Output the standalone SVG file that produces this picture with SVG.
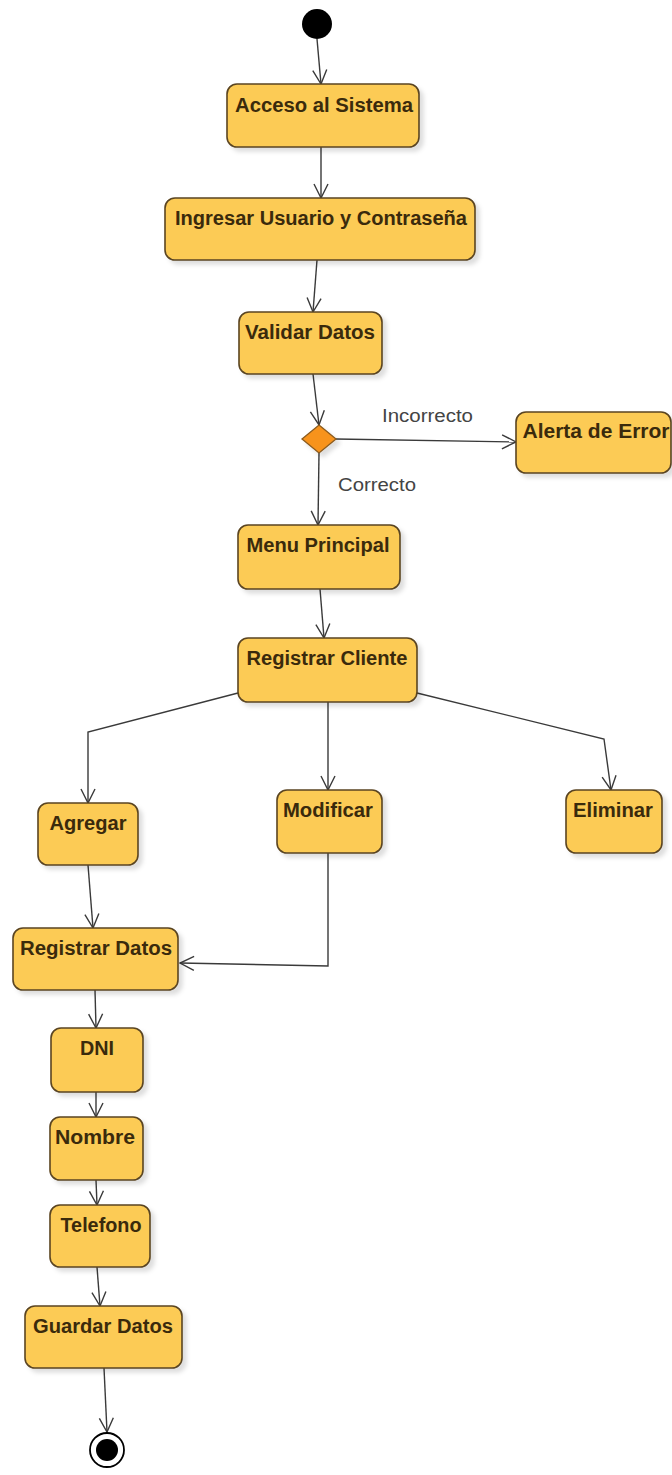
<svg xmlns="http://www.w3.org/2000/svg" width="672" height="1475" viewBox="0 0 672 1475">
  <style>
    .act { fill: #FCCB55; stroke: #5a4420; stroke-width: 1.6; filter: url(#shadow); }
    .lbl { font-family: "Liberation Sans", Arial, sans-serif; font-weight: bold; font-size: 20px; fill: #3a2a0c; text-anchor: middle; }
    .guard { font-family: "Liberation Sans", Arial, sans-serif; font-size: 18px; fill: #444; }
    .flow { fill: none; stroke: #3a3a3a; stroke-width: 1.4; marker-end: url(#arrow); }
  </style>
  <defs>
    <filter id="shadow" x="-10%" y="-10%" width="130%" height="140%">
      <feDropShadow dx="4" dy="4" stdDeviation="2" flood-color="#000" flood-opacity="0.13"/>
    </filter>
    <marker id="arrow" viewBox="0 0 16 16" refX="15" refY="8" markerWidth="16" markerHeight="16" orient="auto" markerUnits="userSpaceOnUse">
      <path d="M1,1 L15,8 L1,15" fill="none" stroke="#3a3a3a" stroke-width="1.4"/>
    </marker>
  </defs>
  <rect width="672" height="1475" fill="#ffffff"/>

  <!-- control flow -->
  <g id="connectors">
    <path class="flow" d="M317,39 L321,84"/>
    <path class="flow" d="M321,147 L321,198"/>
    <path class="flow" d="M317,260 L313,312"/>
    <path class="flow" d="M313,374 L319,425"/>
    <path class="flow" d="M336,439 L516,442"/>
    <path class="flow" d="M319,453 L318,525"/>
    <path class="flow" d="M320,589 L324,638"/>
    <path class="flow" d="M238,693 L88,732 L88,803"/>
    <path class="flow" d="M328,702 L328,790"/>
    <path class="flow" d="M417,693 L604,739 L611,790"/>
    <path class="flow" d="M88,865 L93,928"/>
    <path class="flow" d="M328,853 L328,966 L180,963"/>
    <path class="flow" d="M95,990 L96,1028"/>
    <path class="flow" d="M96,1092 L96,1117"/>
    <path class="flow" d="M96,1180 L97,1205"/>
    <path class="flow" d="M97,1267 L100,1306"/>
    <path class="flow" d="M104,1368 L107,1432"/>
    <text class="guard" x="382" y="422" textLength="91" lengthAdjust="spacingAndGlyphs">Incorrecto</text>
    <text class="guard" x="338" y="491" textLength="78" lengthAdjust="spacingAndGlyphs">Correcto</text>
  </g>

  <g id="start">
    <circle cx="317" cy="24" r="15" fill="#000"/>
  </g>

  <g id="acceso">
    <rect class="act" x="227" y="84" width="192" height="63" rx="10"/>
    <text class="lbl" x="324" y="112" textLength="178" lengthAdjust="spacingAndGlyphs">Acceso al Sistema</text>
  </g>

  <g id="ingresar">
    <rect class="act" x="165" y="198" width="310" height="62" rx="10"/>
    <text class="lbl" x="321" y="225" textLength="292" lengthAdjust="spacingAndGlyphs">Ingresar Usuario y Contraseña</text>
  </g>

  <g id="validar">
    <rect class="act" x="239" y="312" width="143" height="62" rx="10"/>
    <text class="lbl" x="310" y="339" textLength="130" lengthAdjust="spacingAndGlyphs">Validar Datos</text>
  </g>

  <g id="decision">
    <polygon points="319,425 336,439 319,453 302,439" fill="#F7931E" stroke="#8a5a1c" stroke-width="1.3" filter="url(#shadow)"/>
  </g>

  <g id="alerta">
    <rect class="act" x="516" y="412" width="155" height="61" rx="10"/>
    <text class="lbl" x="596" y="438" textLength="147" lengthAdjust="spacingAndGlyphs">Alerta de Error</text>
  </g>

  <g id="menu">
    <rect class="act" x="238" y="525" width="162" height="64" rx="10"/>
    <text class="lbl" x="318" y="552" textLength="143" lengthAdjust="spacingAndGlyphs">Menu Principal</text>
  </g>

  <g id="registrar-cliente">
    <rect class="act" x="238" y="638" width="179" height="64" rx="10"/>
    <text class="lbl" x="327" y="665" textLength="161" lengthAdjust="spacingAndGlyphs">Registrar Cliente</text>
  </g>

  <g id="agregar">
    <rect class="act" x="38" y="803" width="100" height="62" rx="10"/>
    <text class="lbl" x="88" y="830" textLength="77" lengthAdjust="spacingAndGlyphs">Agregar</text>
  </g>

  <g id="modificar">
    <rect class="act" x="277" y="790" width="105" height="63" rx="10"/>
    <text class="lbl" x="328" y="817" textLength="90" lengthAdjust="spacingAndGlyphs">Modificar</text>
  </g>

  <g id="eliminar">
    <rect class="act" x="566" y="790" width="96" height="63" rx="10"/>
    <text class="lbl" x="613" y="817" textLength="80" lengthAdjust="spacingAndGlyphs">Eliminar</text>
  </g>

  <g id="registrar-datos">
    <rect class="act" x="13" y="928" width="165" height="62" rx="10"/>
    <text class="lbl" x="96" y="955" textLength="152" lengthAdjust="spacingAndGlyphs">Registrar Datos</text>
  </g>

  <g id="dni">
    <rect class="act" x="51" y="1028" width="92" height="64" rx="10"/>
    <text class="lbl" x="97" y="1055" textLength="34" lengthAdjust="spacingAndGlyphs">DNI</text>
  </g>

  <g id="nombre">
    <rect class="act" x="50" y="1117" width="93" height="63" rx="10"/>
    <text class="lbl" x="95" y="1144" textLength="80" lengthAdjust="spacingAndGlyphs">Nombre</text>
  </g>

  <g id="telefono">
    <rect class="act" x="50" y="1205" width="100" height="62" rx="10"/>
    <text class="lbl" x="101" y="1232" textLength="81" lengthAdjust="spacingAndGlyphs">Telefono</text>
  </g>

  <g id="guardar">
    <rect class="act" x="25" y="1306" width="157" height="62" rx="10"/>
    <text class="lbl" x="103" y="1333" textLength="140" lengthAdjust="spacingAndGlyphs">Guardar Datos</text>
  </g>

  <g id="end">
    <circle cx="107" cy="1450" r="17" fill="#fff" stroke="#000" stroke-width="1.8"/>
    <circle cx="107" cy="1450" r="11" fill="#000"/>
  </g>
</svg>
